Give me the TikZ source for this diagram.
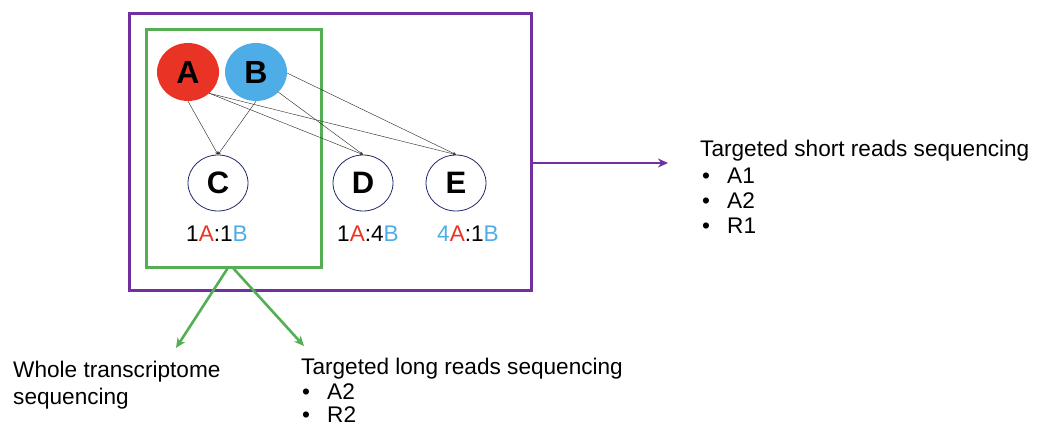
\documentclass[tikz,border=0pt]{standalone}
\usepackage{fontspec}
\setmainfont{Liberation Sans}
\usetikzlibrary{shapes.geometric,arrows.meta}
\definecolor{cred}{RGB}{233,52,37}
\definecolor{cblue}{RGB}{78,173,230}
\definecolor{cpurple}{RGB}{112,48,160}
\definecolor{cgreen}{RGB}{84,174,84}
\definecolor{cnavy}{RGB}{30,40,100}
\tikzset{
  src/.style={ellipse, minimum width=62pt, minimum height=58pt, inner sep=0pt, font=\fontsize{32}{32}\selectfont\bfseries},
  tgt/.style={ellipse, draw=cnavy, line width=0.8pt, minimum width=60pt, minimum height=56pt, inner sep=0pt, font=\fontsize{31}{31}\selectfont\bfseries},
  ratio/.style={anchor=base, inner sep=0pt, font=\fontsize{22.6}{22.6}\selectfont},
  txt/.style={anchor=base west, inner sep=0pt, font=\fontsize{22.6}{22.6}\selectfont},
  edge/.style={line width=0.45pt, black!80, -{Stealth[length=3pt,width=3pt]}},
  garrow/.style={cgreen, line width=2.6pt, -{Stealth[length=10pt,width=9pt]}},
  parrow/.style={cpurple, line width=2.8pt, -{Stealth[length=10pt,width=9pt]}}
}
\begin{document}
\begin{tikzpicture}[x=1pt,y=-1pt]
\useasboundingbox (0,0) rectangle (1038,426);
% boxes
\node[draw=cpurple, line width=3pt, minimum width=402pt, minimum height=277pt, inner sep=0pt] (pbox) at (330,151.5) {};
\node[draw=cgreen, line width=3pt, minimum width=175pt, minimum height=238pt, inner sep=0pt] (gbox) at (233.5,148) {};
% nodes
\node[src, fill=cred] (A) at (188,72) {A};
\node[src, fill=cblue] (B) at (256,72) {B};
\node[tgt] (C) at (218,183) {C};
\node[tgt] (D) at (363,183) {D};
\node[tgt] (E) at (456,183) {E};
% edges
\draw[edge] (A.south) -- (C.north);
\draw[edge] (B.south) -- (C.north);
\draw[edge] (A.-45) -- (D.north);
\draw[edge] (A.-45) -- (E.north);
\draw[edge] (B.-42) -- (D.north);
\draw[edge] (B.-2) -- (E.north);
% ratios
\node[ratio] (rC) at (217,241) {1\textcolor{cred}{A}:1\textcolor{cblue}{B}};
\node[ratio] (rD) at (368,241) {1\textcolor{cred}{A}:4\textcolor{cblue}{B}};
\node[ratio] (rE) at (468,241) {\textcolor{cblue}{4}\textcolor{cred}{A}:1\textcolor{cblue}{B}};
% arrows
\coordinate (ptip) at (668,163);
\coordinate (wtip) at (176,348);
\coordinate (ltip) at (304,346);
\draw[parrow] ([yshift=-11.5pt]pbox.east) -- (ptip);
\draw[garrow] ([xshift=-6pt]gbox.south) -- (wtip);
\draw[garrow] (gbox.south) -- (ltip);
% texts
\node[txt] (sTitle) at (700,156) {Targeted short reads sequencing};
\node[txt] (sb1) at (702,183) {•};
\node[txt] (s1) at (727,183) {A1};
\node[txt] (sb2) at (702,208) {•};
\node[txt] (s2) at (727,208) {A2};
\node[txt] (sb3) at (702,233) {•};
\node[txt] (s3) at (727,233) {R1};
\node[txt] (w1) at (13,377) {Whole transcriptome};
\node[txt] (w2) at (13,404) {sequencing};
\node[txt] (lTitle) at (301,374) {Targeted long reads sequencing};
\node[txt] (lb1) at (302,399) {•};
\node[txt] (l1) at (327,399) {A2};
\node[txt] (lb2) at (302,422) {•};
\node[txt] (l2) at (327,422) {R2};
\end{tikzpicture}
\end{document}
